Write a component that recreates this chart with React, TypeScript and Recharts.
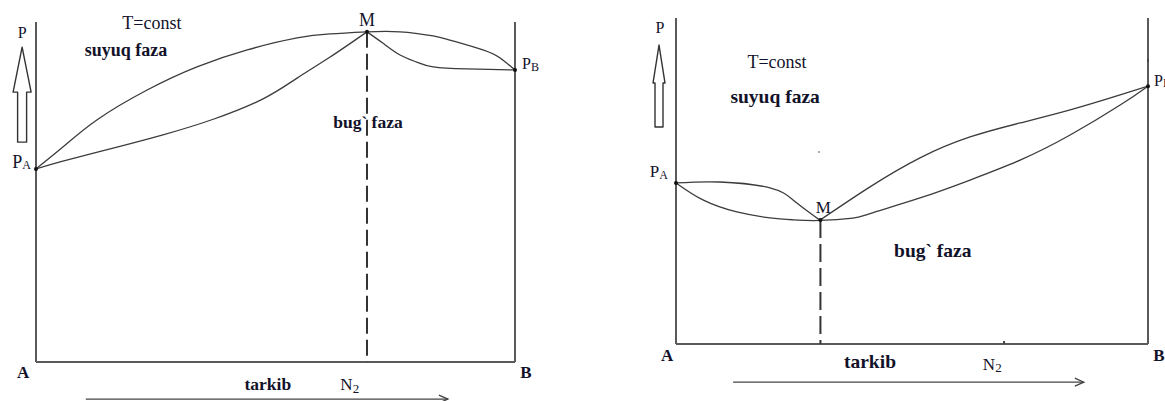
import React from 'react';
import { LineChart, Line, XAxis, YAxis, ReferenceLine, ReferenceDot } from 'recharts';

// ---- Left diagram: positive azeotrope (pressure maximum at M) ----
// composition of N2 (0 = pure A, 100 = pure B), pressure in relative units
const maxLiquidAX = [0, 5.6, 12.7, 23.2, 33.6, 44.1, 54.5, 61.4, 69.1];
const maxLiquidAP = [56.8, 63.2, 71.2, 80.0, 86.8, 91.8, 95.3, 96.5, 97.1];
const maxVaporAX = [0, 5.6, 16.1, 26.5, 37.0, 47.4, 54.5, 61.4, 69.1];
const maxVaporAP = [56.8, 59.1, 62.9, 66.8, 71.4, 77.4, 83.5, 89.7, 97.1];
const maxLiquidBX = [69.1, 76.0, 82.9, 86.4, 93.3, 96.9, 100];
const maxLiquidBP = [97.1, 97.1, 95.9, 94.7, 91.8, 89.4, 85.9];
const maxVaporBX = [69.1, 72.4, 76.0, 79.5, 82.9, 90.0, 100];
const maxVaporBP = [97.1, 93.8, 90.3, 88.2, 86.8, 86.2, 85.9];
const maxPoints = { pA: 56.8, mX: 69.1, mP: 97.1, pB: 85.9 };

// ---- Right diagram: negative azeotrope (pressure minimum at M) ----
const minLiquidAX = [0, 9.3, 19.9, 24.8, 28.4, 30.5];
const minLiquidAP = [49.4, 49.7, 47.9, 44.2, 40.2, 38.0];
const minLowerX = [0, 5.7, 12.9, 19.9, 24.8, 30.5, 37.5, 41.1, 51.7, 62.3, 72.9, 83.5, 94.1, 100];
const minLowerP = [49.4, 44.2, 40.5, 38.7, 38.1, 37.9, 38.6, 40.0, 44.8, 50.3, 56.4, 64.1, 73.3, 79.1];
const minUpperBX = [30.5, 41.1, 51.7, 62.3, 72.9, 83.5, 94.1, 100];
const minUpperBP = [38.0, 48.2, 57.1, 63.5, 67.8, 71.8, 76.4, 79.1];
const minPoints = { pA: 49.4, mX: 30.6, mP: 38.0, pB: 79.1 };

const toPoints = (xs: number[], ps: number[]) => xs.map((x, i) => ({ x, p: ps[i] }));

const SERIF = "'Liberation Serif', 'Times New Roman', serif";
const INK = '#12122a';
const CURVE = '#3c3c3c';
const FRAME = '#5a5a5a';

type Draw = (cx: number, cy: number) => React.ReactNode;

// an invisible reference dot used as an anchor for annotations in data space
const at = (key: string, x: number, y: number, draw: Draw) => (
  <ReferenceDot
    key={key}
    x={x}
    y={y}
    r={0}
    ifOverflow="visible"
    shape={(p: any) => <g>{draw(p.cx, p.cy)}</g>}
  />
);

const txt = (s: string, size: number, bold = false, anchor: 'start' | 'middle' | 'end' = 'middle', dx = 0, dy = 0): Draw =>
  (cx, cy) => (
    <text x={cx + dx} y={cy + dy} textAnchor={anchor} dominantBaseline="central"
      fontFamily={SERIF} fontSize={size} fontWeight={bold ? 700 : 400} fill={INK}>
      {s}
    </text>
  );

const sub = (main: string, small: string, size: number, subSize: number, anchor: 'start' | 'end' | 'middle', dx: number, dy: number, bold = false): Draw =>
  (cx, cy) => (
    <text x={cx + dx} y={cy + dy} textAnchor={anchor} dominantBaseline="central"
      fontFamily={SERIF} fontSize={size} fontWeight={bold ? 700 : 400} fill={INK}>
      {main}
      <tspan fontSize={subSize} dy={3}>{small}</tspan>
    </text>
  );

const dot: Draw = (cx, cy) => <circle cx={cx} cy={cy} r={2} fill="#111" />;

// hollow upward arrow next to the pressure axis, drawn from its tip
const hollowArrow = (headW: number, headL: number, shaftW: number, len: number): Draw => (cx, cy) => (
  <path
    d={`M${cx} ${cy} L${cx + headW} ${cy + headL} L${cx + shaftW} ${cy + headL} L${cx + shaftW} ${cy + len}
        L${cx - shaftW} ${cy + len} L${cx - shaftW} ${cy + headL} L${cx - headW} ${cy + headL} Z`}
    fill="#fff" stroke="#333" strokeWidth={1.4} strokeLinejoin="round"
  />
);

const arrowHead: Draw = (cx, cy) => (
  <path d={`M${cx - 9} ${cy - 4} L${cx} ${cy} L${cx - 9} ${cy + 4}`} fill="none" stroke="#444" strokeWidth={1.3} />
);

const tick: Draw = (cx, cy) => <line x1={cx} y1={cy} x2={cx} y2={cy - 3} stroke="#444" strokeWidth={2} />;

const curve = (key: string, data: { x: number; p: number }[]) => (
  <Line key={key} data={data} dataKey="p" type="natural" stroke={CURVE} strokeWidth={1.3}
    dot={false} activeDot={false} isAnimationActive={false} />
);

const frame = (key: string) => [
  <ReferenceLine key={key + 'l'} x={0} stroke={FRAME} strokeWidth={2} />,
  <ReferenceLine key={key + 'r'} x={100} stroke={FRAME} strokeWidth={2} />,
  <ReferenceLine key={key + 'b'} y={0} stroke={FRAME} strokeWidth={2} />,
];

function MaxDiagram() {
  const { pA, mX, mP, pB } = maxPoints;
  return (
    <LineChart width={560} height={401} margin={{ top: 22, right: 45, bottom: 39, left: 36 }}
      style={{ position: 'absolute', left: 0, top: 0 }}>
      <XAxis type="number" dataKey="x" domain={[0, 100]} hide allowDataOverflow />
      <YAxis type="number" domain={[0, 100]} hide allowDataOverflow />
      {frame('max')}
      <ReferenceLine segment={[{ x: mX, y: mP }, { x: mX, y: 0 }]} stroke="#333" strokeWidth={2}
        strokeDasharray="16 6" ifOverflow="visible" />
      <ReferenceLine segment={[{ x: 10.4, y: -10.9 }, { x: 86.0, y: -10.9 }]} stroke="#444"
        strokeWidth={1.3} ifOverflow="visible" />
      {curve('la', toPoints(maxLiquidAX, maxLiquidAP))}
      {curve('va', toPoints(maxVaporAX, maxVaporAP))}
      {curve('lb', toPoints(maxLiquidBX, maxLiquidBP))}
      {curve('vb', toPoints(maxVaporBX, maxVaporBP))}
      {at('dA', 0, pA, dot)}
      {at('dM', mX, mP, dot)}
      {at('dB', 100, pB, dot)}
      {at('lPA', 0, pA, sub('P', 'A', 18, 12, 'end', -5, -7))}
      {at('lM', mX, mP, txt('M', 18, false, 'middle', 0, -12))}
      {at('lPB', 100, pB, sub('P', 'B', 16, 12, 'start', 7, -6))}
      {at('lT', 24.2, 99.7, txt('T=const', 18))}
      {at('lS', 18.8, 91.8, txt('suyuq faza', 18, true))}
      {at('lV', 69.3, 70.6, txt('bug` faza', 17.5, true))}
      {at('lP', -2.9, 96.8, txt('P', 16))}
      {at('aP', -2.9, 92.6, hollowArrow(9, 45, 4.5, 95))}
      {at('lA', -2.7, -3.2, txt('A', 17, true))}
      {at('lB', 102.3, -3.2, txt('B', 17, true))}
      {at('lX', 48.4, -6.5, txt('tarkib', 17.5, true))}
      {at('lN', 65.5, -7.3, sub('N', '2', 17, 13, 'middle', 0, -2))}
      {at('ah', 86.0, -10.9, arrowHead)}
    </LineChart>
  );
}

function MinDiagram() {
  const { pA, mX, mP, pB } = minPoints;
  return (
    <LineChart width={565} height={401} margin={{ top: 18, right: 17, bottom: 57, left: 76 }}
      style={{ position: 'absolute', left: 600, top: 0 }}>
      <XAxis type="number" dataKey="x" domain={[0, 100]} hide allowDataOverflow />
      <YAxis type="number" domain={[0, 100]} hide allowDataOverflow />
      {frame('min')}
      <ReferenceLine segment={[{ x: mX, y: mP }, { x: mX, y: 0 }]} stroke="#333" strokeWidth={2}
        strokeDasharray="18 6" ifOverflow="visible" />
      <ReferenceLine segment={[{ x: 12.1, y: -11.7 }, { x: 86.4, y: -11.7 }]} stroke="#444"
        strokeWidth={1.3} ifOverflow="visible" />
      {curve('la', toPoints(minLiquidAX, minLiquidAP))}
      {curve('lo', toPoints(minLowerX, minLowerP))}
      {curve('ub', toPoints(minUpperBX, minUpperBP))}
      {at('dA', 0, pA, dot)}
      {at('dM', mX, mP, dot)}
      {at('dB', 100, pB, dot)}
      {at('lPA', 0, pA, sub('P', 'A', 17, 12, 'end', -8, -11))}
      {at('lM', mX, mP, txt('M', 17, false, 'middle', 3, -13))}
      {at('lPB', 100, pB, sub('P', 'B', 16, 12, 'start', 6, -6))}
      {at('tB', 100, 86.5, tick)}
      {at('sp', 30.3, 58.9, (cx, cy) => <circle cx={cx} cy={cy} r={0.9} fill="#888" />)}
      {at('lT', 21.4, 86.5, txt('T=const', 18))}
      {at('lS', 21.0, 75.8, txt('suyuq faza', 19.5, true))}
      {at('lV', 54.4, 28.8, txt('bug` faza', 19.5, true))}
      {at('lP', -3.4, 97.2, txt('P', 16))}
      {at('aP', -3.6, 91.7, hollowArrow(6, 38, 4, 82))}
      {at('lA', -1.9, -3.4, txt('A', 17, true))}
      {at('lB', 102.3, -3.4, txt('B', 17, true))}
      {at('lX', 41.1, -5.5, txt('tarkib', 19.5, true))}
      {at('lN', 67.0, -6.9, sub('N', '2', 17, 13, 'middle', 0, -2))}
      {at('bt', 69.5, 0, tick)}
      {at('ah', 86.4, -11.7, arrowHead)}
    </LineChart>
  );
}

export default function App() {
  return (
    <div style={{ position: 'absolute', left: 0, top: 0, width: 1165, height: 401, background: '#fff', overflow: 'hidden' }}>
      <MaxDiagram />
      <MinDiagram />
    </div>
  );
}
